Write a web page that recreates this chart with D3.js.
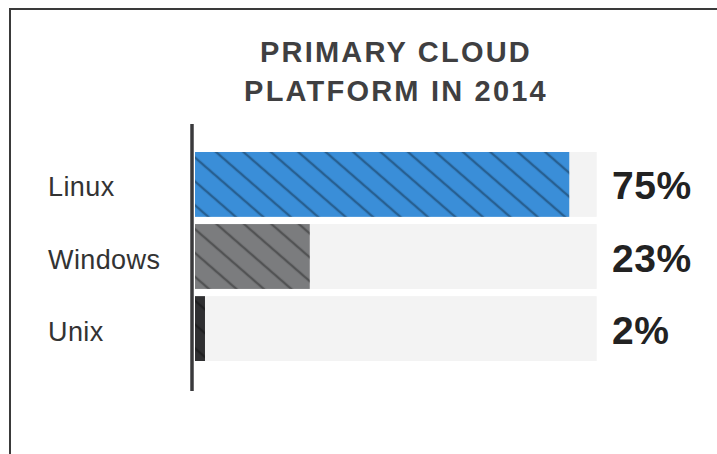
<!DOCTYPE html>
<html><head><meta charset="utf-8">
<script src="https://cdn.jsdelivr.net/npm/d3@7"></script>
<style>body{margin:0;background:#fff;} svg{display:block;}</style>
</head><body>
<svg id="c" width="717" height="454"></svg>
<script>
const categories = ["Linux", "Windows", "Unix"];
const values = [75, 23, 2];
const valueLabels = ["75%", "23%", "2%"];
const colors = ["#3a8ed8", "#7b7c7e", "#2f2f31"];
const titleLines = ["PRIMARY CLOUD", "PLATFORM IN 2014"];
const trackMax = 80.5;

const svg = d3.select("#c");
const font = "'Liberation Sans', Arial, Helvetica, sans-serif";

// frame
svg.append("path").attr("d", "M10,454 V9 H717").attr("fill", "none")
  .attr("stroke", "#3a3a3a").attr("stroke-width", 2);

// pattern
const defs = svg.append("defs");
const pat = defs.append("pattern").attr("id", "stripes").attr("patternUnits", "userSpaceOnUse")
  .attr("width", 18).attr("height", 18).attr("patternTransform", "rotate(-49)");
pat.append("line").attr("x1", 9).attr("y1", -2).attr("x2", 9).attr("y2", 20)
  .attr("stroke", "#000").attr("stroke-opacity", 0.33).attr("stroke-width", 2.4);

const x = d3.scaleLinear().domain([0, 100]).range([195, 694]);
const y = d3.scaleBand().domain(categories).range([152, 361]).paddingInner(0.1).paddingOuter(0);

// tracks
svg.selectAll("rect.track").data(categories).join("rect").attr("class", "track")
  .attr("x", x(0)).attr("y", d => y(d)).attr("width", x(trackMax) - x(0)).attr("height", y.bandwidth())
  .attr("fill", "#f3f3f3");

// bars
const g = svg.selectAll("g.bar").data(categories).join("g").attr("class", "bar");
g.append("rect").attr("x", x(0)).attr("y", d => y(d)).attr("width", (d, i) => x(values[i]) - x(0))
  .attr("height", y.bandwidth()).attr("fill", (d, i) => colors[i]);
g.append("rect").attr("x", x(0)).attr("y", d => y(d)).attr("width", (d, i) => x(values[i]) - x(0))
  .attr("height", y.bandwidth()).attr("fill", "url(#stripes)");

// axis line
svg.append("line").attr("x1", 192).attr("x2", 192).attr("y1", 124).attr("y2", 391)
  .attr("stroke", "#3a3a3c").attr("stroke-width", 3.5);

// category labels
svg.selectAll("text.cat").data(categories).join("text").attr("class", "cat")
  .attr("x", 48).attr("y", d => y(d) + y.bandwidth() / 2 + 12)
  .attr("font-family", font).attr("font-size", 27).attr("fill", "#333")
  .attr("letter-spacing", 0.4).text(d => d);

// value labels
svg.selectAll("text.val").data(valueLabels).join("text").attr("class", "val")
  .attr("x", 612).attr("y", (d, i) => y(categories[i]) + y.bandwidth() / 2 + 15)
  .attr("font-family", font).attr("font-size", 39).attr("font-weight", "bold").attr("fill", "#222")
  .attr("letter-spacing", 0.5).text(d => d);

// title
svg.selectAll("text.title").data(titleLines).join("text").attr("class", "title")
  .attr("x", 396).attr("y", (d, i) => 62 + i * 39).attr("text-anchor", "middle")
  .attr("font-family", font).attr("font-size", 29).attr("font-weight", "bold").attr("fill", "#3f3f41")
  .attr("letter-spacing", 2.2).text(d => d);
</script>
</body></html>
